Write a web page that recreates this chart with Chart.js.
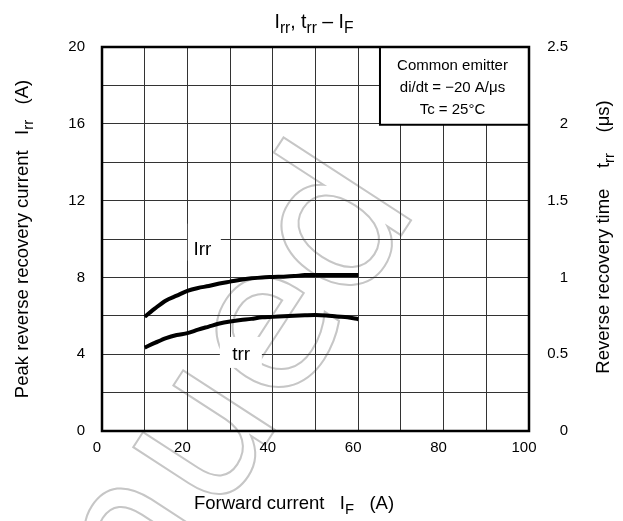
<!DOCTYPE html>
<html>
<head>
<meta charset="utf-8">
<script src="https://cdn.jsdelivr.net/npm/chart.js@4.4.1/dist/chart.umd.min.js"></script>
<style>
  html, body { margin: 0; padding: 0; background: #fff; }
</style>
</head>
<body>
<canvas id="chart" width="623" height="521"></canvas>
<script>
// forward current IF (A)
const forwardCurrent = [10, 12.5, 15, 17.5, 20, 22.5, 25, 27.5, 30, 32.5, 35, 37.5, 40, 42.5, 45, 47.5, 50, 52.5, 55, 57.5, 60];
// peak reverse recovery current Irr (A)
const irrValues = [5.95, 6.4, 6.8, 7.05, 7.3, 7.45, 7.55, 7.68, 7.78, 7.88, 7.95, 8.0, 8.02, 8.04, 8.07, 8.12, 8.12, 8.12, 8.12, 8.12, 8.12];
// reverse recovery time trr (us)
const trrValues = [0.543, 0.575, 0.605, 0.625, 0.637, 0.66, 0.68, 0.7, 0.713, 0.722, 0.73, 0.74, 0.743, 0.747, 0.75, 0.753, 0.755, 0.752, 0.745, 0.74, 0.728];

const xTickLabels = [0, 20, 40, 60, 80, 100];
const irrTickLabels = [0, 4, 8, 12, 16, 20];
const trrTickLabels = [0, 0.5, 1, 1.5, 2, 2.5];

const conditionLines = ['Common emitter', 'di/dt = \u221220 A/\u03bcs', 'Tc = 25\u00b0C'];
// [text, subscript?]
const titleParts = [['I'], ['rr', 1], [', t'], ['rr', 1], [' \u2013 I'], ['F', 1]];
const xTitleParts = [['Forward current   I'], ['F', 1], ['   (A)']];
const irrTitleParts = [['Peak reverse recovery current   I'], ['rr', 1], ['   (A)']];
const trrTitleParts = [['Reverse recovery time    t'], ['rr', 1], ['    (\u03bcs)']];

const FAMILY = "'Liberation Sans', Arial, sans-serif";

function matchTick(list, v) {
  const hit = list.find(t => Math.abs(t - v) < 1e-6);
  return hit === undefined ? '' : String(hit);
}

// text with subscripts, centred on (cx, baseline cy), optionally rotated
function drawRich(ctx, parts, cx, cy, size, angle) {
  ctx.save();
  ctx.translate(cx, cy);
  ctx.rotate(angle || 0);
  ctx.textAlign = 'left';
  ctx.textBaseline = 'alphabetic';
  ctx.fillStyle = '#000';
  const fontFor = sub => (sub ? size * 0.8 : size) + 'px ' + FAMILY;
  const widths = parts.map(([t, sub]) => { ctx.font = fontFor(sub); return ctx.measureText(t).width; });
  let x = -widths.reduce((a, b) => a + b, 0) / 2;
  parts.forEach(([t, sub], i) => {
    ctx.font = fontFor(sub);
    ctx.fillText(t, x, sub ? size * 0.25 : 0);
    x += widths[i];
  });
  ctx.restore();
}

const decorations = {
  id: 'decorations',
  beforeDraw(chart) {
    // faint outlined watermark
    const ctx = chart.ctx;
    ctx.save();
    ctx.translate(421, 205);
    ctx.rotate(-57 * Math.PI / 180);
    ctx.font = "200px 'DejaVu Sans', sans-serif";
    ctx.textAlign = 'right';
    ctx.textBaseline = 'alphabetic';
    ctx.strokeStyle = '#c6c6c6';
    ctx.lineWidth = 2;
    ctx.strokeText('Discontinued', 0, 0);
    ctx.restore();
  },
  beforeDatasetsDraw(chart) {
    const ctx = chart.ctx;
    const { x, y } = chart.scales;
    ctx.save();
    // curve labels on white patches
    ctx.fillStyle = '#fff';
    ctx.fillRect(x.getPixelForValue(20.1), y.getPixelForValue(10.8), 33, 37);
    ctx.fillRect(x.getPixelForValue(27.6), y.getPixelForValue(4.9), 42, 31);
    ctx.fillStyle = '#000';
    ctx.font = '19px ' + FAMILY;
    ctx.textAlign = 'center';
    ctx.textBaseline = 'alphabetic';
    ctx.fillText('Irr', x.getPixelForValue(23.5), y.getPixelForValue(9.15));
    ctx.fillText('trr', x.getPixelForValue(32.6), y.getPixelForValue(3.68));

    // measurement conditions box
    const left = x.getPixelForValue(65.1), right = chart.chartArea.right;
    const top = chart.chartArea.top, bottom = y.getPixelForValue(15.95);
    ctx.fillStyle = '#fff';
    ctx.fillRect(left, top, right - left, bottom - top);
    ctx.strokeStyle = '#000';
    ctx.lineWidth = 2;
    ctx.strokeRect(left, top, right - left, bottom - top);
    ctx.fillStyle = '#000';
    ctx.font = '15px ' + FAMILY;
    ctx.textBaseline = 'middle';
    const cx = (left + right) / 2 - 2;
    conditionLines.forEach((t, i) => ctx.fillText(t, cx, top + 19 + i * 22));
    ctx.restore();
  },
  afterDatasetsDraw(chart) {
    const ctx = chart.ctx;
    const a = chart.chartArea;
    ctx.save();
    ctx.strokeStyle = '#000';
    ctx.lineWidth = 2.5;
    ctx.strokeRect(a.left, a.top, a.right - a.left, a.bottom - a.top);
    ctx.restore();

    drawRich(ctx, titleParts, 314, 28, 19.5);
    drawRich(ctx, xTitleParts, 294, 509, 18.5);
    drawRich(ctx, irrTitleParts, 28, 239, 18.5, -Math.PI / 2);
    drawRich(ctx, trrTitleParts, 609, 237, 18.5, -Math.PI / 2);
  }
};

const gridStyle = { color: '#333', lineWidth: 1, drawTicks: false };
const tickFont = { family: FAMILY, size: 15 };

new Chart(document.getElementById('chart'), {
  type: 'line',
  data: {
    datasets: [
      {
        label: 'Irr',
        data: forwardCurrent.map((v, i) => ({ x: v, y: irrValues[i] })),
        yAxisID: 'y',
        borderColor: '#000',
        borderWidth: 4,
        pointRadius: 0,
        tension: 0.3,
        borderJoinStyle: 'round'
      },
      {
        label: 'trr',
        data: forwardCurrent.map((v, i) => ({ x: v, y: trrValues[i] })),
        yAxisID: 'y1',
        borderColor: '#000',
        borderWidth: 4,
        pointRadius: 0,
        tension: 0.3,
        borderJoinStyle: 'round'
      }
    ]
  },
  options: {
    responsive: false,
    animation: false,
    devicePixelRatio: 1,
    layout: { padding: { top: 47, right: 55, left: 0, bottom: 0 } },
    plugins: { legend: { display: false }, tooltip: { enabled: false } },
    scales: {
      x: {
        type: 'linear', min: 0, max: 100,
        grid: gridStyle,
        border: { display: false },
        ticks: {
          stepSize: 10, autoSkip: false, maxRotation: 0, padding: 8, labelOffset: -5,
          color: '#000', font: tickFont,
          callback: v => matchTick(xTickLabels, v)
        },
        afterFit: s => { s.height = 90; }
      },
      y: {
        position: 'left', min: 0, max: 20,
        grid: gridStyle,
        border: { display: false },
        ticks: {
          stepSize: 2, autoSkip: false, padding: 17,
          color: '#000', font: tickFont,
          callback: v => matchTick(irrTickLabels, v)
        },
        afterFit: s => { s.width = 102; }
      },
      y1: {
        position: 'right', min: 0, max: 2.5,
        grid: { drawOnChartArea: false, drawTicks: false },
        border: { display: false },
        ticks: {
          stepSize: 0.25, autoSkip: false, padding: 0, crossAlign: 'far',
          color: '#000', font: tickFont,
          callback: v => matchTick(trrTickLabels, v)
        },
        afterFit: s => { s.width = 39; }
      }
    }
  },
  plugins: [decorations]
});
</script>
</body>
</html>
